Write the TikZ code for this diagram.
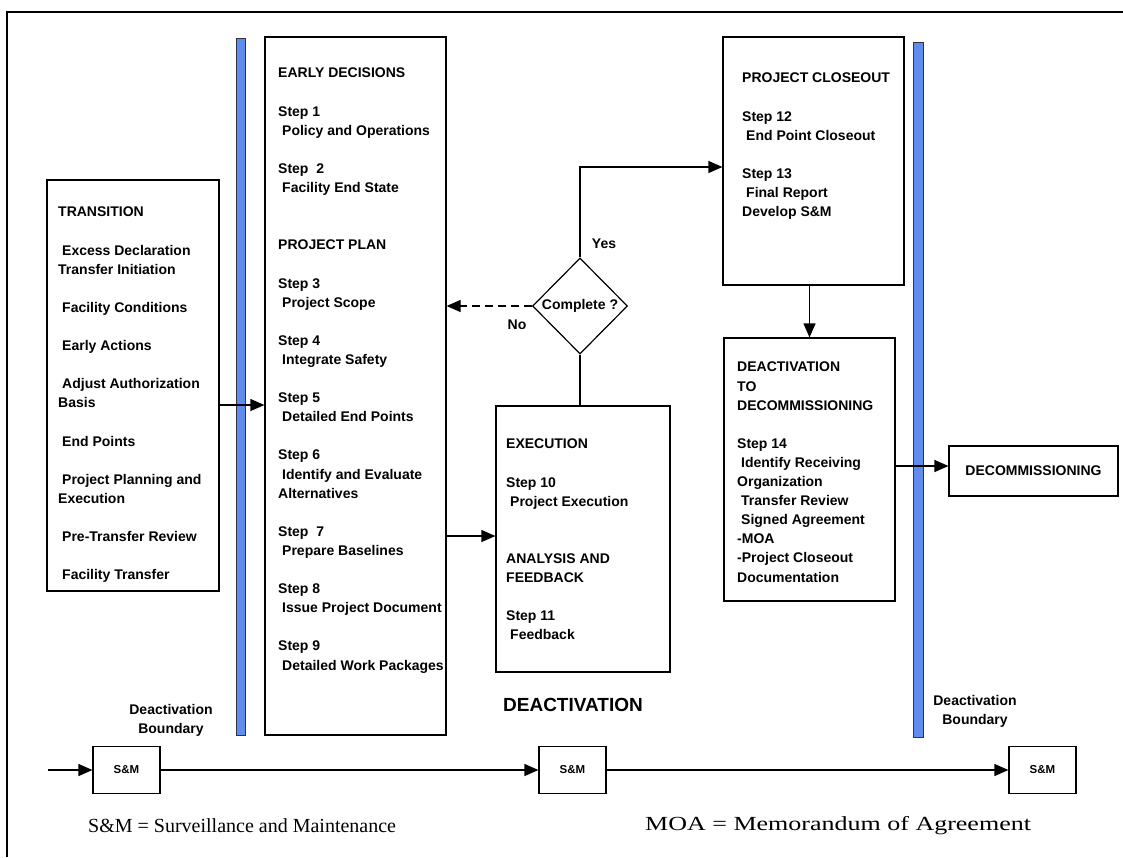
\documentclass[tikz,border=0pt]{standalone}
\usepackage{fontspec}
\setmainfont{Liberation Sans}
\newfontfamily\capfont{Liberation Serif}
\usetikzlibrary{arrows.meta,shapes.geometric}
\definecolor{bndblue}{RGB}{96,140,240}
\newcommand{\indnt}{\hspace*{4pt}}
\tikzset{
    box/.style={draw, line width=1.2pt, inner sep=0pt},
    lbl/.style={font=\bfseries\fontsize{14}{19.1}\selectfont, inner sep=0pt, align=left, anchor=north west},
    txt/.style={font=\bfseries\fontsize{14}{19.1}\selectfont, inner sep=0pt},
    arr/.style={-{Triangle[length=14pt,width=12pt]}, line width=1.2pt},
    bnd/.style={fill=bndblue, draw=black!80, line width=0.8pt},
    smbox/.style={box, font=\bfseries\fontsize{11.5}{13}\selectfont, minimum width=67pt, minimum height=47pt},
    capt/.style={font=\capfont\fontsize{20}{24}\selectfont, anchor=west, inner sep=0pt}
}
\begin{document}
\begin{tikzpicture}[x=1pt,y=-1pt]
    \useasboundingbox (0,0) rectangle (1123,857);

    % Frame
    \draw[line width=1.2pt] (1123,12) -- (7,12) -- (7,857);

    % Deactivation boundaries
    \filldraw[bnd] (236,38) rectangle (245,735);
    \filldraw[bnd] (913,42) rectangle (923,737);

    % Boxes
    \node[box, minimum width=172pt, minimum height=411pt] (trans) at (133,385.5) {};
    \node[box, minimum width=181pt, minimum height=698pt] (early) at (355.5,386) {};
    \node[box, minimum width=174pt, minimum height=266pt] (exec) at (583,539) {};
    \node[box, minimum width=181pt, minimum height=248pt] (close) at (813.5,161) {};
    \node[box, minimum width=171pt, minimum height=263pt] (dtod) at (809.5,469.5) {};
    \node[box, txt, minimum width=169pt, minimum height=50pt] (decomm) at (1033.5,471) {DECOMMISSIONING};
    \node[box, txt, diamond, aspect=1, minimum width=95pt, minimum height=96pt] (dec) at (580,306) {Complete ?};

    % Box texts
    \node[lbl] (transtxt) at (58,207) {TRANSITION\\[19.1pt]
        \indnt Excess Declaration\\
        Transfer Initiation\\[19.1pt]
        \indnt Facility Conditions\\[19.1pt]
        \indnt Early Actions\\[19.1pt]
        \indnt Adjust Authorization\\
        Basis\\[19.1pt]
        \indnt End Points\\[19.1pt]
        \indnt Project Planning and\\
        Execution\\[19.1pt]
        \indnt Pre-Transfer Review\\[19.1pt]
        \indnt Facility Transfer};

    \node[lbl] (earlytxt) at (278,68) {EARLY DECISIONS\\[19.1pt]
        Step 1\\
        \indnt Policy and Operations\\[19.1pt]
        Step \ 2\\
        \indnt Facility End State\\[38.2pt]
        PROJECT PLAN\\[19.1pt]
        Step 3\\
        \indnt Project Scope\\[19.1pt]
        Step 4\\
        \indnt Integrate Safety\\[19.1pt]
        Step 5\\
        \indnt Detailed End Points\\[19.1pt]
        Step 6\\
        \indnt Identify and Evaluate\\
        Alternatives\\[19.1pt]
        Step \ 7\\
        \indnt Prepare Baselines\\[19.1pt]
        Step 8\\
        \indnt Issue Project Document\\[19.1pt]
        Step 9\\
        \indnt Detailed Work Packages};

    \node[lbl] (exectxt) at (506,439) {EXECUTION\\[19.1pt]
        Step 10\\
        \indnt Project Execution\\[38.2pt]
        ANALYSIS AND\\
        FEEDBACK\\[19.1pt]
        Step 11\\
        \indnt Feedback};

    \node[lbl] (closetxt) at (742,73) {PROJECT CLOSEOUT\\[19.1pt]
        Step 12\\
        \indnt End Point Closeout\\[19.1pt]
        Step 13\\
        \indnt Final Report\\
        Develop S\&M};

    \node[lbl] (dtodtxt) at (737,362) {DEACTIVATION\\
        TO\\
        DECOMMISSIONING\\[19.1pt]
        Step 14\\
        \indnt Identify Receiving\\
        Organization\\
        \indnt Transfer Review\\
        \indnt Signed Agreement\\
        -MOA\\
        -Project Closeout\\
        Documentation};

    % Labels
    \node[txt] (yes) at (604,244) {Yes};
    \node[txt] (no) at (517,325) {No};
    \node[font=\bfseries\fontsize{19}{22}\selectfont, inner sep=0pt] (deact) at (573,705) {DEACTIVATION};
    \node[txt, align=center] (bndl) at (171,720) {Deactivation\\Boundary};
    \node[txt, align=center] (bndr) at (975,711.5) {Deactivation\\Boundary};

    % Connectors
    \draw[arr] (trans.east |- 0,405) -- (early.west |- 0,405);
    \draw[arr] (early.east |- 0,536) -- (exec.west |- 0,536);
    \draw[line width=1.2pt] (dec.south) -- (dec.south |- exec.north);
    \draw[arr] (dec.north) |- (close.west |- 0,167);
    \draw[arr, dash pattern=on 8pt off 5pt] (dec.west) -- (early.east |- dec.west);
    \draw[arr] (dtod.north |- close.south) -- (dtod.north);
    \draw[arr] (dtod.east |- 0,466) -- (decomm.west |- 0,466);

    % S&M row
    \coordinate (smin) at (48,770);
    \node[smbox] (sm1) at (126.5,770) {S\&M};
    \node[smbox] (sm2) at (572.5,770) {S\&M};
    \node[smbox] (sm3) at (1042.5,770) {S\&M};
    \draw[arr] (smin) -- (sm1);
    \draw[arr] (sm1) -- (sm2);
    \draw[arr] (sm2) -- (sm3);

    % Definitions
    \node[capt] (smdef) at (88,826) {S\&M = Surveillance and Maintenance};
    \node[capt] (moadef) at (645,826) {\scalebox{1.3}[1]{MOA = Memorandum of Agreement}};
\end{tikzpicture}
\end{document}
